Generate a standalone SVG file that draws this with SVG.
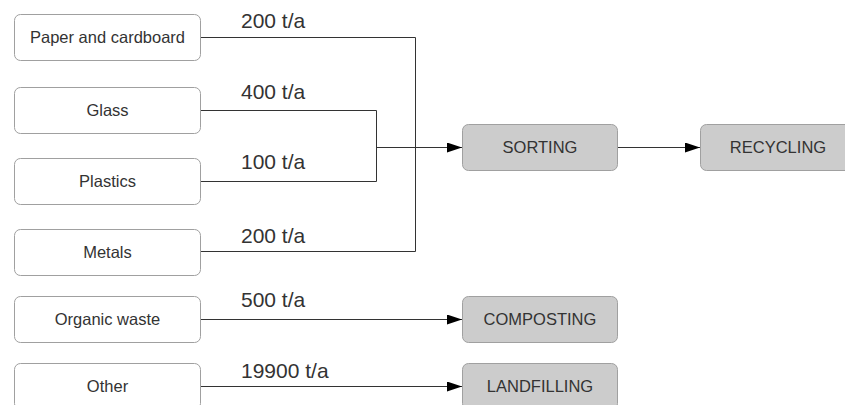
<svg xmlns="http://www.w3.org/2000/svg" width="845" height="405" viewBox="0 0 845 405">
<style>
.src{fill:#ffffff;stroke:#a0a0a0;stroke-width:1}
.proc{fill:#cccccc;stroke:#a0a0a0;stroke-width:1}
.nt{font-family:"Liberation Sans",Arial,sans-serif;font-size:16.5px;fill:#333333;text-anchor:middle}
.lbl{font-family:"Liberation Sans",Arial,sans-serif;font-size:21px;fill:#333333}
.ln{fill:none;stroke:#333333;stroke-width:1}
</style>
<defs>
<marker id="arr" viewBox="0 0 15 10" refX="15" refY="5" markerWidth="15" markerHeight="10" markerUnits="userSpaceOnUse" orient="auto">
<path d="M0,0 L15,5 L0,10 z" fill="#000000"/>
</marker>
</defs>
<rect width="845" height="405" fill="#ffffff"/>
<g id="connectors">
<path class="ln" d="M200.5,37.5 H415.5 V251.5 H200.5"/>
<path class="ln" d="M200.5,110.5 H376.5 V181.5 H200.5"/>
<path class="ln" d="M376.5,147.5 H462" marker-end="url(#arr)"/>
<path class="ln" d="M618,147.5 H700" marker-end="url(#arr)"/>
<path class="ln" d="M200.5,319.5 H462" marker-end="url(#arr)"/>
<path class="ln" d="M200.5,386.5 H462" marker-end="url(#arr)"/>
<text class="lbl" x="241" y="28">200 t/a</text>
<text class="lbl" x="241" y="99">400 t/a</text>
<text class="lbl" x="241" y="169">100 t/a</text>
<text class="lbl" x="241" y="243">200 t/a</text>
<text class="lbl" x="241" y="307">500 t/a</text>
<text class="lbl" x="241" y="378">19900 t/a</text>
</g>
<g id="paper"><rect class="src" x="14.5" y="14.5" width="186" height="46" rx="6"/><text class="nt" x="107.5" y="43">Paper and cardboard</text></g>
<g id="glass"><rect class="src" x="14.5" y="87.5" width="186" height="46" rx="6"/><text class="nt" x="107.5" y="116">Glass</text></g>
<g id="plastics"><rect class="src" x="14.5" y="158.5" width="186" height="46" rx="6"/><text class="nt" x="107.5" y="187">Plastics</text></g>
<g id="metals"><rect class="src" x="14.5" y="229.5" width="186" height="46" rx="6"/><text class="nt" x="107.5" y="258">Metals</text></g>
<g id="organic"><rect class="src" x="14.5" y="296.5" width="186" height="46" rx="6"/><text class="nt" x="107.5" y="325">Organic waste</text></g>
<g id="other"><rect class="src" x="14.5" y="363.5" width="186" height="46" rx="6"/><text class="nt" x="107.5" y="392">Other</text></g>
<g id="sorting"><rect class="proc" x="462.5" y="124.5" width="155" height="46" rx="6"/><text class="nt" x="540" y="153">SORTING</text></g>
<g id="recycling"><rect class="proc" x="700.5" y="124.5" width="155" height="46" rx="6"/><text class="nt" x="778" y="153">RECYCLING</text></g>
<g id="composting"><rect class="proc" x="462.5" y="296.5" width="155" height="46" rx="6"/><text class="nt" x="540" y="325">COMPOSTING</text></g>
<g id="landfilling"><rect class="proc" x="462.5" y="363.5" width="155" height="46" rx="6"/><text class="nt" x="540" y="392">LANDFILLING</text></g>
</svg>
